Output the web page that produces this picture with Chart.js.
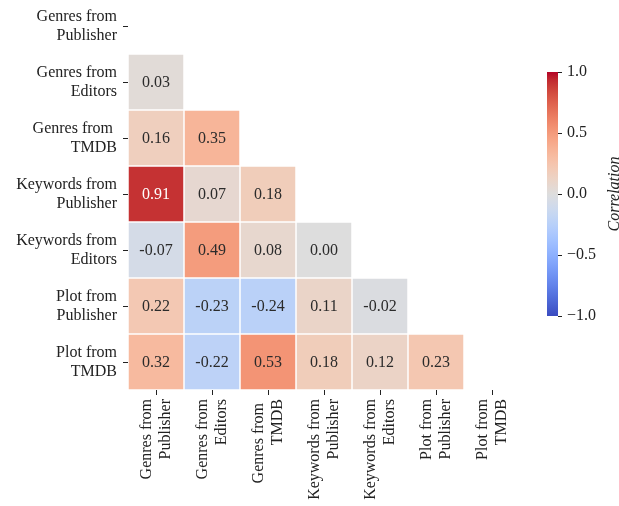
<!DOCTYPE html>
<html>
<head>
<meta charset="utf-8">
<script src="https://cdn.jsdelivr.net/npm/chart.js@4"></script>
<style>
  html, body { margin: 0; padding: 0; background: #fff; }
  #wrap { position: relative; width: 619px; height: 506px; overflow: hidden; }
  #heat { position: absolute; left: 0; top: -2px; }
  #cbar { position: absolute; left: 520px; top: 0; }
</style>
</head>
<body>
<div id="wrap">
  <canvas id="heat" width="619" height="508"></canvas>
  <canvas id="cbar" width="99" height="506"></canvas>
</div>
<script>
// Feature names (two lines each)
const features = [
    ['Genres from', 'Publisher'],
    ['Genres from', 'Editors'],
    ['Genres from ', 'TMDB'],
    ['Keywords from', 'Publisher'],
    ['Keywords from', 'Editors'],
    ['Plot from', 'Publisher'],
    ['Plot from', 'TMDB']
];

// Lower triangle of the correlation matrix, one row per feature (diagonal left out)
const rowGenresPublisher = [];
const rowGenresEditors = [0.03];
const rowGenresTmdb = [0.16, 0.35];
const rowKeywordsPublisher = [0.91, 0.07, 0.18];
const rowKeywordsEditors = [-0.07, 0.49, 0.08, 0.00];
const rowPlotPublisher = [0.22, -0.23, -0.24, 0.11, -0.02];
const rowPlotTmdb = [0.32, -0.22, 0.53, 0.18, 0.12, 0.23];

const corrRows = [
    rowGenresPublisher, rowGenresEditors, rowGenresTmdb, rowKeywordsPublisher,
    rowKeywordsEditors, rowPlotPublisher, rowPlotTmdb
];

const colorbarTicks = [-1, -0.5, 0, 0.5, 1];

// coolwarm colormap (Moreland), 33 evenly spaced stops
const coolwarmStops = [
    [59, 76, 192], [68, 90, 204], [77, 104, 215], [87, 117, 225], [98, 130, 234],
    [108, 142, 241], [119, 154, 247], [130, 165, 251], [141, 176, 254], [152, 185, 255],
    [163, 194, 255], [174, 201, 253], [184, 208, 249], [194, 213, 244], [204, 217, 238],
    [213, 219, 230], [221, 221, 221], [229, 216, 209], [236, 211, 197], [241, 204, 185],
    [245, 196, 173], [247, 187, 160], [247, 177, 148], [247, 166, 135], [244, 154, 123],
    [241, 141, 111], [236, 127, 99], [229, 112, 88], [222, 96, 77], [213, 80, 66],
    [203, 62, 56], [192, 40, 47], [180, 4, 38]
];

function coolwarmRgb(t) {
    if (!isFinite(t)) t = 0.5;
    t = Math.max(0, Math.min(1, t));
    const pos = t * (coolwarmStops.length - 1);
    const i = Math.min(Math.floor(pos), coolwarmStops.length - 2);
    const f = pos - i;
    const a = coolwarmStops[i], b = coolwarmStops[i + 1];
    return a.map((v, k) => Math.round(v + (b[k] - v) * f));
}

function corrColor(v) {
    if (v === undefined || v === null) return 'rgba(0,0,0,0)';
    const c = coolwarmRgb((v + 1) / 2);
    return `rgb(${c[0]}, ${c[1]}, ${c[2]})`;
}

// same rule seaborn uses to pick annotation colour
function textColorFor(v) {
    const lin = coolwarmRgb((v + 1) / 2).map(x => {
        x = x / 255;
        return x <= 0.03928 ? x / 12.92 : Math.pow((x + 0.055) / 1.055, 2.4);
    });
    const lum = 0.2126 * lin[0] + 0.7152 * lin[1] + 0.0722 * lin[2];
    return lum > 0.408 ? '#2b2b2b' : '#ffffff';
}

Chart.defaults.font.family = "'Liberation Serif', 'DejaVu Serif', serif";
Chart.defaults.font.size = 16;
Chart.defaults.color = '#222';
Chart.defaults.animation = false;

// one dataset per row, bars span the row from r-0.5 to r+0.5
const datasets = corrRows.map((row, r) => ({
    label: features[r].join(' '),
    data: features.map((f, c) => c < row.length ? [r - 0.5, r + 0.5] : null),
    values: row,
    backgroundColor: ctx => corrColor(row[ctx.dataIndex]),
    borderColor: '#ffffff',
    borderWidth: 0.75,
    borderSkipped: false,
    inflateAmount: 0,
    grouped: false,
    barPercentage: 1,
    categoryPercentage: 1
}));

const cellLabels = {
    id: 'cellLabels',
    afterDatasetsDraw(chart) {
        const ctx = chart.ctx;
        ctx.save();
        ctx.font = "16px 'Liberation Serif', serif";
        ctx.textAlign = 'center';
        ctx.textBaseline = 'middle';
        chart.data.datasets.forEach((ds, di) => {
            const meta = chart.getDatasetMeta(di);
            ds.values.forEach((v, i) => {
                const bar = meta.data[i];
                if (!bar) return;
                const { x, y, base } = bar.getProps(['x', 'y', 'base'], true);
                ctx.fillStyle = textColorFor(v);
                ctx.fillText(v.toFixed(2), x, (y + base) / 2 + 1);
            });
        });
        ctx.restore();
    }
};

new Chart(document.getElementById('heat'), {
    type: 'bar',
    data: { labels: features, datasets },
    options: {
        responsive: false,
        layout: { padding: { top: 0, right: 99, left: 0, bottom: 0 } },
        plugins: { legend: { display: false }, tooltip: { enabled: false } },
        scales: {
            x: {
                type: 'category',
                offset: true,
                border: { display: false },
                grid: { offset: false, drawOnChartArea: false, tickLength: 5, tickColor: '#222', tickWidth: 1 },
                ticks: { autoSkip: false, minRotation: 90, maxRotation: 90, padding: 4, labelOffset: -9 },
                afterFit: scale => { scale.height = 116; }
            },
            y: {
                type: 'linear',
                min: -0.5,
                max: 6.5,
                reverse: true,
                border: { display: false },
                grid: { drawOnChartArea: false, tickLength: 5, tickColor: '#222', tickWidth: 1 },
                afterBuildTicks: scale => { scale.ticks = features.map((f, i) => ({ value: i })); },
                ticks: { padding: 6, callback: v => features[v] },
                afterFit: scale => {
                    scale.width = 128;
                    scale.paddingTop = 0;
                    scale.paddingBottom = 0;
                }
            }
        }
    },
    plugins: [cellLabels]
});

// colour bar
const cbarTitle = {
    id: 'cbarTitle',
    afterDraw(chart) {
        const ctx = chart.ctx;
        const a = chart.chartArea;
        ctx.save();
        ctx.translate(99, (a.top + a.bottom) / 2);
        ctx.rotate(-Math.PI / 2);
        ctx.font = "italic 16px 'Liberation Serif', serif";
        ctx.fillStyle = '#222';
        ctx.textAlign = 'center';
        ctx.textBaseline = 'alphabetic';
        ctx.fillText('Correlation', 0, 0);
        ctx.restore();
    }
};

new Chart(document.getElementById('cbar'), {
    type: 'bar',
    data: {
        labels: [''],
        datasets: [{
            data: [[-1, 1]],
            backgroundColor: ctx => {
                const a = ctx.chart.chartArea;
                if (!a) return null;
                const g = ctx.chart.ctx.createLinearGradient(0, a.bottom, 0, a.top);
                coolwarmStops.forEach((c, i) => g.addColorStop(i / (coolwarmStops.length - 1), `rgb(${c[0]}, ${c[1]}, ${c[2]})`));
                return g;
            },
            borderWidth: 0,
            inflateAmount: 0,
            barPercentage: 1,
            categoryPercentage: 1
        }]
    },
    options: {
        responsive: false,
        layout: { padding: { top: 72, bottom: 190, left: 27, right: 0 } },
        plugins: { legend: { display: false }, tooltip: { enabled: false } },
        scales: {
            x: { display: false },
            y: {
                position: 'right',
                min: -1,
                max: 1,
                border: { display: false },
                grid: { drawOnChartArea: false, tickLength: 4, tickColor: '#222', tickWidth: 1 },
                afterBuildTicks: scale => { scale.ticks = colorbarTicks.map(v => ({ value: v })); },
                ticks: { padding: 5, callback: v => v.toFixed(1).replace('-', '\u2212') },
                afterFit: scale => { scale.width = 61; }
            }
        }
    },
    plugins: [cbarTitle]
});
</script>
</body>
</html>
